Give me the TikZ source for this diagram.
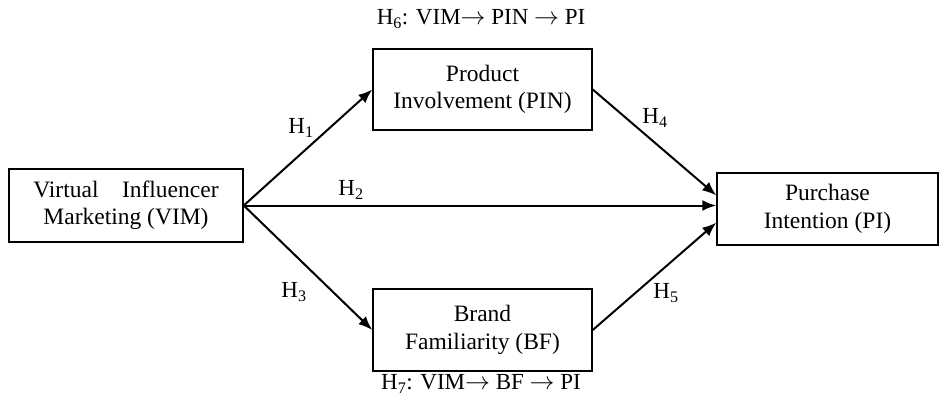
\documentclass[tikz,border=0pt]{standalone}
\usepackage{fontspec}
\setmainfont{Liberation Serif}
\usetikzlibrary{arrows.meta}

\begin{document}
\begin{tikzpicture}[x=1pt,y=-1pt,
    var/.style={draw,line width=1.5pt,align=center,inner sep=0pt,font=\fontsize{23.5}{27.5}\selectfont},
    hyp/.style={font=\fontsize{23}{27}\selectfont,inner sep=0pt},
    path/.style={line width=2pt,-{Latex[length=14pt,width=11pt]}}]
      \useasboundingbox[fill=white] (0,0) rectangle (944,397);
      % constructs
      \node[var,minimum width=234pt,minimum height=73pt](vim) at (126,205.5){Virtual\quad Influencer\\Marketing (VIM)};
      \node[var,minimum width=219pt,minimum height=81pt](pin) at (482.5,89.5){Product\\Involvement (PIN)};
      \node[var,minimum width=219pt,minimum height=82pt](bf) at (482.5,330){Brand\\Familiarity (BF)};
      \node[var,minimum width=221pt,minimum height=72pt](pi) at (827.5,209){Purchase\\Intention (PI)};
      % paths
      \draw[path] (vim.east) -- (pin.west);
      \draw[path] (vim.east) -- (pi.west |- vim.east);
      \draw[path] (vim.east) -- (bf.west);
      \draw[path] (pin.east) -- (pi.173);
      \draw[path] (bf.east) -- (pi.187);
      % hypotheses
      \node[hyp](h1) at (301,128){H\textsubscript{1}};
      \node[hyp](h2) at (351,190){H\textsubscript{2}};
      \node[hyp](h3) at (294,292){H\textsubscript{3}};
      \node[hyp](h4) at (655,118){H\textsubscript{4}};
      \node[hyp](h5) at (666,293){H\textsubscript{5}};
      \node[hyp](h6) at (481,19){H\textsubscript{6}: VIM$\rightarrow$ PIN $\rightarrow$ PI};
      \node[hyp](h7) at (481,384){H\textsubscript{7}: VIM$\rightarrow$ BF $\rightarrow$ PI};
\end{tikzpicture}
\end{document}
